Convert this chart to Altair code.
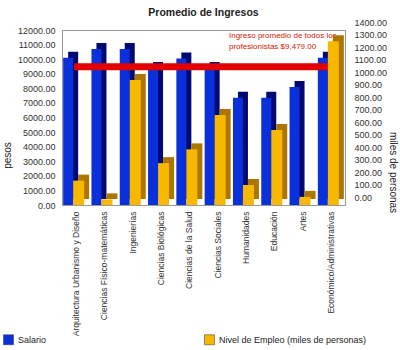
import altair as alt
import pandas as pd

categorias = ["Arquitectura Urbanismo y Diseño", "Ciencias Físico-matemáticas", "Ingenierías",
              "Ciencias Biológicas", "Ciencias de la Salud", "Ciencias Sociales", "Humanidades",
              "Educación", "Artes", "Económico/Administrativas"]
salario = [10100, 10700, 10700, 9400, 10050, 9400, 7350, 7350, 8100, 10100]
empleo = [195, 45, 1000, 335, 445, 720, 160, 600, 65, 1310]
series = ["Salario", "Nivel de Empleo (miles de personas)"]
promedio = 9479
nota = ["Ingreso promedio de todos los", "profesionistas $9,479.00"]

FONT = "Liberation Sans"
BLUE, BLUE_D = "#0a30dc", "#000a70"
YEL, YEL_D = "#f8b800", "#ad7600"

df_s = pd.DataFrame({"cat": categorias, "v": salario, "serie": series[0]})
df_e = pd.DataFrame({"cat": categorias, "v": empleo, "serie": series[1]})

xenc = alt.X("cat:N", sort=categorias, title=None,
             scale=alt.Scale(paddingInner=0.12, paddingOuter=0.06),
             axis=alt.Axis(labelAngle=-90, labelFontSize=8.5, labelFont=FONT, labelColor="#333",
                           domain=False, ticks=False, labelPadding=6, labelLimit=200))
cenc = alt.Color("serie:N", scale=alt.Scale(domain=series, range=[BLUE, YEL]),
                 legend=alt.Legend(title=None, orient="none", legendX=-59, legendY=304,
                                   direction="horizontal", columns=2, columnPadding=156,
                                   symbolType="square", symbolSize=100, symbolStrokeWidth=0.5,
                                   symbolStrokeColor="#333",
                                   labelFont=FONT, labelFontSize=9, labelColor="#222"))

yl = alt.Y("v:Q", scale=alt.Scale(domain=[0, 12000], nice=False),
           axis=alt.Axis(orient="left", format=".2f", values=list(range(0, 12001, 1000)),
                         labelOverlap=False, tickCount=13,
                         title="pesos", titleFont=FONT, titleFontWeight="normal", titleFontSize=10,
                         titleColor="#222", titleX=-50, titleY=125, titleAngle=-90,
                         labelFont=FONT, labelFontSize=9, labelColor="#333", grid=False,
                         domain=False, ticks=False, labelPadding=7))
yr = alt.Y("v:Q", scale=alt.Scale(domain=[0, 1400], nice=False),
           axis=alt.Axis(orient="right", format=".2f", values=list(range(0, 1401, 100)),
                         labelOverlap=False,
                         title="miles de personas", titleFont=FONT, titleFontWeight="normal",
                         titleFontSize=10, titleColor="#222", titleX=42, titleY=142, titleAngle=90,
                         labelFont=FONT, labelFontSize=9, labelColor="#333", grid=False,
                         domain=False, ticks=False, labelPadding=9, labelOffset=-8))

DX, DY = 5, -6
blue_side = alt.Chart(df_s).mark_bar(color=BLUE_D, size=10, xOffset=-8 + DX, yOffset=DY).encode(x=xenc, y=yl)
blue_front = alt.Chart(df_s).mark_bar(size=10, xOffset=-8).encode(x=xenc, y=yl, color=cenc)
linea = alt.Chart(pd.DataFrame({"v": [promedio]})).mark_rule(color="#e00000", strokeWidth=7).encode(
    y=yl, x=alt.value(12), x2=alt.value(275))
izq = alt.layer(blue_side, blue_front, linea)

texto = alt.Chart(pd.DataFrame({"t": [nota]})).mark_text(
    align="left", baseline="top", font=FONT, fontSize=8, color="#cc2200", lineHeight=10.5).encode(
    text="t", x=alt.value(167), y=alt.value(2))
yel_side = alt.Chart(df_e).mark_bar(color=YEL_D, size=11, xOffset=2.5 + DX, yOffset=DY).encode(x=xenc, y=yr)
yel_front = alt.Chart(df_e).mark_bar(size=11, xOffset=2.5).encode(x=xenc, y=yr, color=cenc)
der = alt.layer(texto, yel_side, yel_front)

chart = alt.layer(izq, der).resolve_scale(y="independent").properties(
    width=283, height=175,
    title=alt.Title("Promedio de Ingresos", font=FONT, fontSize=10.5, fontWeight="bold",
                    color="#222", offset=0),
    autosize=alt.AutoSizeParams(type="none"),
    padding={"left": 62, "top": 30, "right": 55, "bottom": 145},
    background="white",
).configure_view(stroke="#999", strokeWidth=1)

chart.save("out.html", embed_options={"renderer": "svg", "actions": False})
